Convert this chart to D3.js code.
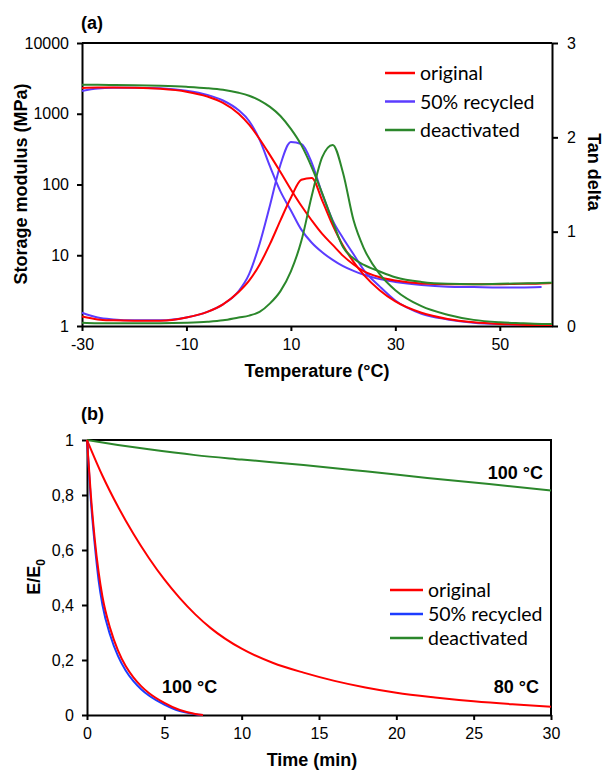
<!DOCTYPE html>
<html>
<head>
<meta charset="utf-8">
<script src="https://cdn.jsdelivr.net/npm/d3@7"></script>
<style>
  body { margin: 0; background: #fff; }
  svg text { font-family: 'Liberation Sans', Arial, sans-serif; fill: #000; }
</style>
</head>
<body>
<svg id="chart" width="605" height="770"></svg>
<script>
// ---- panel (a): DMA temperature sweep ----
const temps = [-30, -27, -24, -20, -15, -10, -6, -3, 0, 2, 4, 6, 8, 10, 12, 14,
  16, 18, 20, 22, 24, 27, 30, 35, 40, 45, 50, 54, 58, 60];

// storage modulus, MPa
const storageOriginal = [2320, 2350, 2350, 2330, 2250, 2050, 1750, 1420, 1000,
  700, 440, 260, 150, 85, 50, 31, 20, 14, 9.8, 7.4, 5.9, 4.9, 4.4, 4.0, 3.9,
  3.9, 3.9, 3.95, 4.0, 4.05];
const storageRecycled = [2100, 2280, 2330, 2340, 2300, 2120, 1850, 1540, 1120,
  790, 430, 180, 80, 43, 23, 15, 11, 8.6, 7.0, 6.0, 5.3, 4.6, 4.2, 3.8, 3.6,
  3.55, 3.5, 3.5, 3.55, null];
const storageDeactivated = [2560, 2560, 2550, 2530, 2480, 2400, 2300, 2180,
  1980, 1800, 1550, 1250, 930, 610, 360, 175, 75, 30, 13, 9, 7.3, 5.9, 4.9,
  4.2, 3.95, 3.9, 3.95, 4.0, 4.05, 4.1];

// tan delta
const tanOriginal = [0.10, 0.07, 0.06, 0.055, 0.055, 0.09, 0.15, 0.23, 0.36,
  0.48, 0.65, 0.87, 1.12, 1.36, 1.55, 1.57, 1.33, 1.07, 0.85, 0.68, 0.54,
  0.38, 0.26, 0.14, 0.075, 0.04, 0.022, 0.014, 0.01, 0.01];
const tanRecycled = [0.14, 0.09, 0.07, 0.06, 0.06, 0.09, 0.15, 0.23, 0.37,
  0.55, 0.87, 1.28, 1.71, 1.95, 1.93, 1.73, 1.40, 1.12, 0.93, 0.76, 0.59,
  0.42, 0.27, 0.13, 0.07, 0.035, 0.02, 0.015, 0.012, null];
const tanDeactivated = [0.035, 0.03, 0.03, 0.03, 0.03, 0.035, 0.045, 0.06,
  0.09, 0.11, 0.15, 0.24, 0.37, 0.58, 0.9, 1.38, 1.79, 1.92, 1.62, 1.12, 0.82,
  0.55, 0.38, 0.21, 0.12, 0.065, 0.04, 0.03, 0.022, 0.02];

const tempTicks = [-30, -10, 10, 30, 50];
const modulusTicks = [1, 10, 100, 1000, 10000];
const tanTicks = [0, 1, 2, 3];

// ---- panel (b): stress relaxation ----
const timeSlow = [0, 2, 4, 7, 10, 14, 18, 22, 26, 30];
const deactivated100 = [1, 0.982, 0.966, 0.945, 0.929, 0.909, 0.886, 0.862,
  0.84, 0.816];
const time80 = [0, 1, 2, 3, 4, 5, 6, 7, 8, 10, 12, 14, 16, 18, 20, 22.5,
  25, 27.5, 30];
const original80 = [1, 0.87, 0.758, 0.659, 0.571, 0.493, 0.425, 0.366, 0.316,
  0.241, 0.19, 0.154, 0.124, 0.1, 0.081, 0.064, 0.05, 0.039, 0.03];
const timeFast = [0, 0.25, 0.5, 0.75, 1, 1.5, 2, 2.5, 3, 3.5, 4, 5, 6, 7, 7.5];
const original100 = [1, 0.8, 0.64, 0.52, 0.43, 0.315, 0.235, 0.178, 0.137,
  0.105, 0.08, 0.044, 0.018, 0.004, 0];
const recycled100 = [1, 0.78, 0.62, 0.49, 0.40, 0.29, 0.215, 0.162, 0.123,
  0.094, 0.071, 0.038, 0.014, 0.003, 0];

const timeTicks = [0, 5, 10, 15, 20, 25, 30];
const ratioTicks = [0, 0.2, 0.4, 0.6, 0.8, 1];

const legendNames = ['original', '50% recycled', 'deactivated'];
const colorsA = ['#ff0000', '#5b3cff', '#2b872b'];
const colorsB = ['#ff0000', '#1d3cff', '#2b872b'];

let svg = d3.select('#chart');

/**
 * styles an axis group: thick black line, bigger labels
 */
function styleAxis(g) {
  g.selectAll('.domain').attr('stroke', '#000').attr('stroke-width', 2);
  g.selectAll('.tick line').attr('stroke', '#000').attr('stroke-width', 2);
  g.selectAll('.tick text')
    .attr('fill', '#000')
    .style('font-family', '\'Liberation Sans\', Arial, sans-serif')
    .style('font-size', '16px');
}

/**
 * zips an x array and a y array into points
 */
function zip(xs, ys) {
  return xs.map(function(x, i) {
    return [x, ys[i]];
  });
}

/**
 * draws a legend with short line samples
 */
function legend(x, y, step, lineLen, colors) {
  let g = svg.append('g').attr('transform', 'translate(' + x + ',' + y + ')');
  legendNames.forEach(function(name, i) {
    g.append('line')
      .attr('x1', 0).attr('x2', lineLen)
      .attr('y1', i * step).attr('y2', i * step)
      .attr('stroke', colors[i]).attr('stroke-width', 2.5);
    g.append('text')
      .attr('x', lineLen + 5).attr('y', i * step + 7)
      .style('font-family', 'Lato, sans-serif')
      .style('font-size', '19.5px')
      .text(name);
  });
}

// ================= panel (a) =================
let xA = d3.scaleLinear().domain([-30, 60]).range([82, 552]);
let yA = d3.scaleLog().domain([1, 10000]).range([326, 43]);
let yTan = d3.scaleLinear().domain([0, 3]).range([326, 43]);

svg.append('g')
  .attr('transform', 'translate(0,326)')
  .call(d3.axisBottom(xA).tickValues(tempTicks).tickFormat(String)
    .tickSize(5).tickPadding(8).tickSizeOuter(0))
  .call(styleAxis);
svg.append('g')
  .attr('transform', 'translate(82,0)')
  .call(d3.axisLeft(yA).tickValues(modulusTicks).tickFormat(String)
    .tickSize(5).tickPadding(8).tickSizeOuter(0))
  .call(styleAxis);
svg.append('g')
  .attr('transform', 'translate(552,0)')
  .call(d3.axisRight(yTan).tickValues(tanTicks).tickFormat(String)
    .tickSize(6).tickPadding(9).tickSizeOuter(0))
  .call(styleAxis);
svg.append('line')
  .attr('x1', xA(-30)).attr('x2', xA(60))
  .attr('y1', yA(10000)).attr('y2', yA(10000))
  .attr('stroke', '#000').attr('stroke-width', 2);

let lineStorage = d3.line()
  .defined(function(d) {
    return d[1] != null;
  })
  .x(function(d) {
    return xA(d[0]);
  })
  .y(function(d) {
    return yA(d[1]);
  })
  .curve(d3.curveMonotoneX);
let lineTan = d3.line()
  .defined(function(d) {
    return d[1] != null;
  })
  .x(function(d) {
    return xA(d[0]);
  })
  .y(function(d) {
    return yTan(d[1]);
  })
  .curve(d3.curveMonotoneX);

let storageSets = [storageOriginal, storageRecycled, storageDeactivated];
let tanSets = [tanOriginal, tanRecycled, tanDeactivated];
[1, 0, 2].forEach(function(i) {
  svg.append('path')
    .attr('d', lineStorage(zip(temps, storageSets[i])))
    .attr('fill', 'none').attr('stroke', colorsA[i]).attr('stroke-width', 2);
  svg.append('path')
    .attr('d', lineTan(zip(temps, tanSets[i])))
    .attr('fill', 'none').attr('stroke', colorsA[i]).attr('stroke-width', 2);
});

legend(385, 73, 28.5, 30, colorsA);

svg.append('text').attr('x', 81).attr('y', 29)
  .style('font-weight', 'bold').style('font-size', '18px').text('(a)');
svg.append('text')
  .attr('transform', 'translate(27,184) rotate(-90)')
  .attr('text-anchor', 'middle')
  .style('font-weight', 'bold').style('font-size', '18px')
  .text('Storage modulus (MPa)');
svg.append('text')
  .attr('transform', 'translate(588,172) rotate(90)')
  .attr('text-anchor', 'middle')
  .style('font-weight', 'bold').style('font-size', '18px')
  .text('Tan delta');
svg.append('text').attr('x', 317).attr('y', 377)
  .attr('text-anchor', 'middle')
  .style('font-weight', 'bold').style('font-size', '18px')
  .text('Temperature (°C)');

// ================= panel (b) =================
let xB = d3.scaleLinear().domain([0, 30]).range([87, 551]);
let yB = d3.scaleLinear().domain([0, 1]).range([715, 440]);

svg.append('g')
  .attr('transform', 'translate(0,715)')
  .call(d3.axisBottom(xB).tickValues(timeTicks).tickFormat(String)
    .tickSize(5).tickPadding(8).tickSizeOuter(0))
  .call(styleAxis);
svg.append('g')
  .attr('transform', 'translate(87,0)')
  .call(d3.axisLeft(yB).tickValues(ratioTicks)
    .tickFormat(function(d) {
      return String(d).replace('.', ',');
    })
    .tickSize(5).tickPadding(8).tickSizeOuter(0))
  .call(styleAxis);
svg.append('path')
  .attr('d', 'M' + xB(0) + ',' + yB(1) + 'H' + xB(30) + 'V' + yB(0))
  .attr('fill', 'none').attr('stroke', '#000').attr('stroke-width', 2);

let lineB = d3.line()
  .x(function(d) {
    return xB(d[0]);
  })
  .y(function(d) {
    return yB(d[1]);
  })
  .curve(d3.curveMonotoneX);

let relaxSets = [
  {pts: zip(timeSlow, deactivated100), color: colorsB[2]},
  {pts: zip(time80, original80), color: colorsB[0]},
  {pts: zip(timeFast, recycled100), color: colorsB[1]},
  {pts: zip(timeFast, original100), color: colorsB[0]},
];
relaxSets.forEach(function(s) {
  svg.append('path')
    .attr('d', lineB(s.pts))
    .attr('fill', 'none').attr('stroke', s.color).attr('stroke-width', 2);
});

legend(390, 590, 24, 33, colorsB);

svg.append('text').attr('x', 81).attr('y', 420)
  .style('font-weight', 'bold').style('font-size', '18px').text('(b)');
svg.append('text')
  .attr('transform', 'translate(40,577) rotate(-90)')
  .attr('text-anchor', 'middle')
  .style('font-weight', 'bold').style('font-size', '18px')
  .text('E/E')
  .append('tspan').attr('dy', 5).style('font-size', '12px').text('0');
svg.append('text').attr('x', 312).attr('y', 766)
  .attr('text-anchor', 'middle')
  .style('font-weight', 'bold').style('font-size', '18px')
  .text('Time (min)');

// temperature notes
svg.append('text').attr('x', 543).attr('y', 479)
  .attr('text-anchor', 'end')
  .style('font-weight', 'bold').style('font-size', '18px').text('100 °C');
svg.append('text').attr('x', 162).attr('y', 693)
  .style('font-weight', 'bold').style('font-size', '18px').text('100 °C');
svg.append('text').attr('x', 539).attr('y', 693)
  .attr('text-anchor', 'end')
  .style('font-weight', 'bold').style('font-size', '18px').text('80 °C');
</script>
</body>
</html>
